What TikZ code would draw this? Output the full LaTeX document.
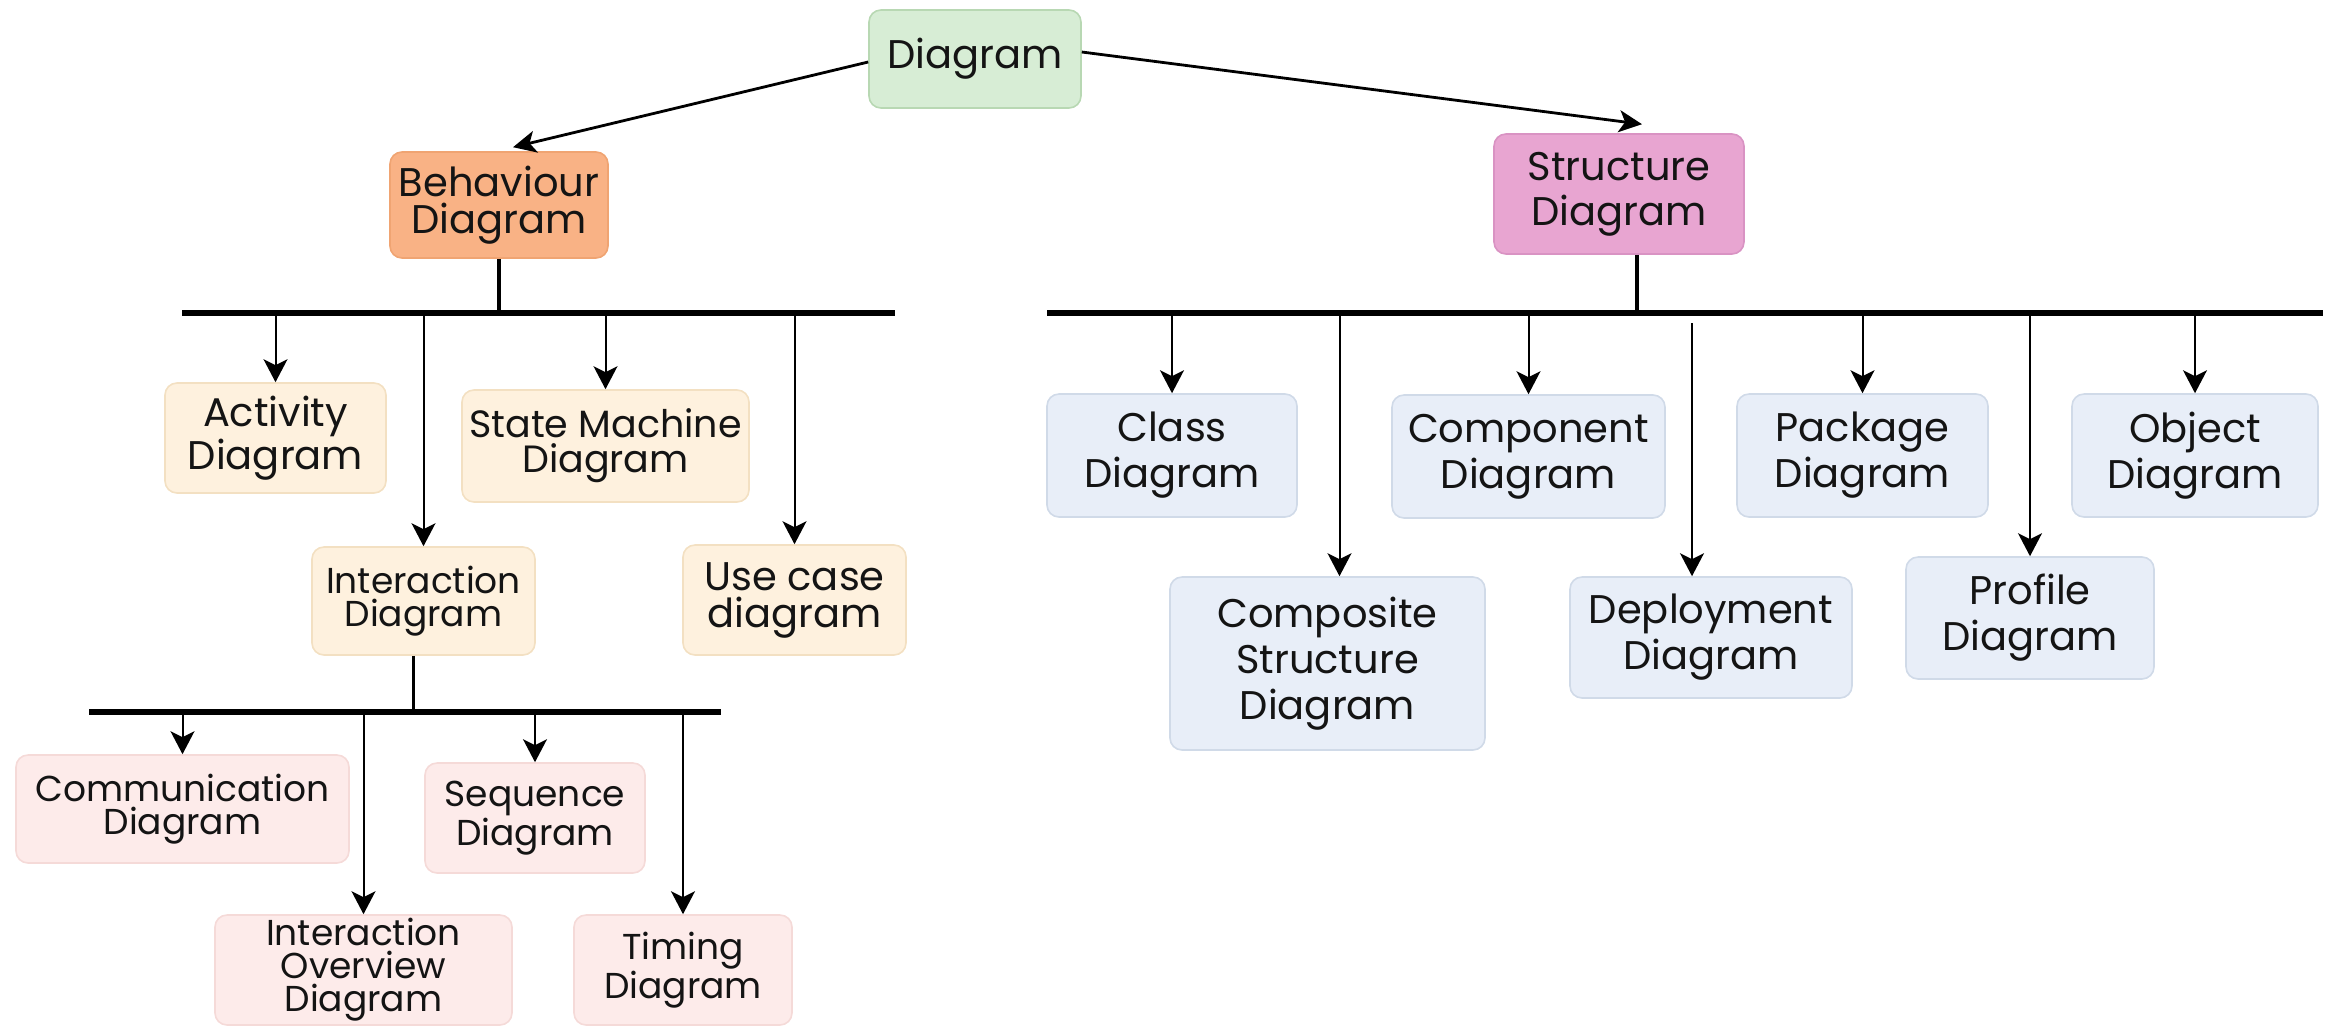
\documentclass[tikz,border=0pt]{standalone}
\usepackage{fontspec}
\setmainfont{Poppins}
\usetikzlibrary{arrows.meta}
\definecolor{gfill}{HTML}{D7EDD5}\definecolor{gdraw}{HTML}{B8D8B3}
\definecolor{ofill}{HTML}{F9B285}\definecolor{odraw}{HTML}{F0A472}
\definecolor{mfill}{HTML}{E8A5D1}\definecolor{mdraw}{HTML}{D993C3}
\definecolor{yfill}{HTML}{FEF1DE}\definecolor{ydraw}{HTML}{F3E0C2}
\definecolor{pfill}{HTML}{FDEBEA}\definecolor{pdraw}{HTML}{F5DAD8}
\definecolor{bfill}{HTML}{E8EEF8}\definecolor{bdraw}{HTML}{D0DAE8}
\definecolor{ink}{HTML}{141414}
\begin{document}
\begin{tikzpicture}[x=0.5pt,y=-0.5pt,
  box/.style={draw, rounded corners=6pt, align=center, inner sep=0pt, line width=0.8pt, text=ink},
  sz/.style 2 args={minimum width=#1*0.5pt, minimum height=#2*0.5pt},
  txa/.style={font=\fontsize{20}{18.5}\selectfont},
  txs/.style={font=\fontsize{19}{17.5}\selectfont},
  txb/.style={font=\fontsize{20}{23}\selectfont},
  txc/.style={font=\fontsize{18}{16.5}\selectfont},
  gbox/.style={box, fill=gfill, draw=gdraw},
  obox/.style={box, fill=ofill, draw=odraw},
  mbox/.style={box, fill=mfill, draw=mdraw},
  ybox/.style={box, fill=yfill, draw=ydraw},
  pbox/.style={box, fill=pfill, draw=pdraw},
  bbox/.style={box, fill=bfill, draw=bdraw},
  conn/.style={draw=black, line width=1pt},
  arr/.style={conn, -{Stealth[length=11.5pt, width=12pt, inset=3pt]}},
  arrthick/.style={draw=black, line width=1.4pt, -{Stealth[length=11.5pt, width=11pt, inset=3pt]}},
  bus/.style={draw=black, line width=2.8pt},
  stem/.style={draw=black, line width=1.8pt}
]
\useasboundingbox (0,0) rectangle (2330,1030);

% top
\node[gbox, sz={212}{98}, txa] (diag) at (975,59) {Diagram};
\node[obox, sz={218}{106}, txa] (beh) at (499,205) {Behaviour\\Diagram};
\node[mbox, sz={250}{120}, font=\fontsize{20}{22.5}\selectfont] (str) at (1619,194) {Structure\\Diagram};

% behaviour children
\node[ybox, sz={221}{110}, txa] (act) at (275.5,438) {Activity\\Diagram};
\node[ybox, sz={287}{112}, txs] (stm) at (605.5,446) {State Machine\\Diagram};
\node[ybox, sz={223}{108}, txc] (inter) at (423.5,601) {Interaction\\Diagram};
\node[ybox, sz={223}{110}, txa] (usec) at (794.5,600) {Use case\\diagram};

% interaction children
\node[pbox, sz={333}{108}, txc] (comm) at (182.5,809) {Communication\\Diagram};
\node[pbox, sz={220}{110}, txc] (seq) at (535,818) {Sequence\\Diagram};
\node[pbox, sz={297}{110}, txc] (iov) at (363.5,970) {Interaction\\Overview\\Diagram};
\node[pbox, sz={218}{110}, txc] (tim) at (683,970) {Timing\\Diagram};

% structure children
\node[bbox, sz={250}{123}, txb] (cls) at (1172,455.5) {Class\\Diagram};
\node[bbox, sz={273}{123}, txb] (cmp) at (1528.5,456.5) {Component\\Diagram};
\node[bbox, sz={251}{123}, txb] (pkg) at (1862.5,455.5) {Package\\Diagram};
\node[bbox, sz={246}{123}, txb] (obj) at (2195,455.5) {Object\\Diagram};
\node[bbox, sz={315}{173}, txb] (csd) at (1327.5,663.5) {Composite\\Structure\\Diagram};
\node[bbox, sz={282}{121}, txb] (dep) at (1711,637.5) {Deployment\\Diagram};
\node[bbox, sz={248}{122}, txb] (prf) at (2030,618) {Profile\\Diagram};

% bus coordinates
\coordinate (b1w) at (182,313); \coordinate (b1e) at (895,313);
\coordinate (b2w) at (89,712);  \coordinate (b2e) at (721,712);
\coordinate (b3w) at (1047,313); \coordinate (b3e) at (2323,313);
\coordinate (depstart) at (1692,323);

% top arrows
\draw[arrthick] ([yshift=-1.5pt]diag.west) -- ([xshift=7pt,yshift=2pt]beh.north);
\draw[arrthick] ([yshift=3.5pt]diag.east) -- ([xshift=11.5pt,yshift=4.5pt]str.north);

% behaviour branch
\draw[bus] (b1w) -- (b1e);
\draw[stem] (beh.south) -- (beh.south |- b1w);
\draw[arr] (act.north |- b1w) -- (act.north);
\draw[arr] (inter.north |- b1w) -- (inter.north);
\draw[arr] (stm.north |- b1w) -- (stm.north);
\draw[arr] (usec.north |- b1w) -- (usec.north);

% interaction branch
\draw[bus] (b2w) -- (b2e);
\draw[stem] ([xshift=-5pt]inter.south) -- ([xshift=-5pt]inter.south |- b2w);
\draw[arr] (comm.north |- b2w) -- (comm.north);
\draw[arr] (iov.north |- b2w) -- (iov.north);
\draw[arr] (seq.north |- b2w) -- (seq.north);
\draw[arr] (tim.north |- b2w) -- (tim.north);

% structure branch
\draw[bus] (b3w) -- (b3e);
\draw[stem] ([xshift=9pt]str.south) -- ([xshift=9pt]str.south |- b3w);
\draw[arr] (cls.north |- b3w) -- (cls.north);
\draw[arr] ([xshift=6pt]csd.north |- b3w) -- ([xshift=6pt]csd.north);
\draw[arr] (cmp.north |- b3w) -- (cmp.north);
\draw[arr] (depstart) -- (depstart |- dep.north);
\draw[arr] (pkg.north |- b3w) -- (pkg.north);
\draw[arr] (prf.north |- b3w) -- (prf.north);
\draw[arr] (obj.north |- b3w) -- (obj.north);
\end{tikzpicture}
\end{document}
